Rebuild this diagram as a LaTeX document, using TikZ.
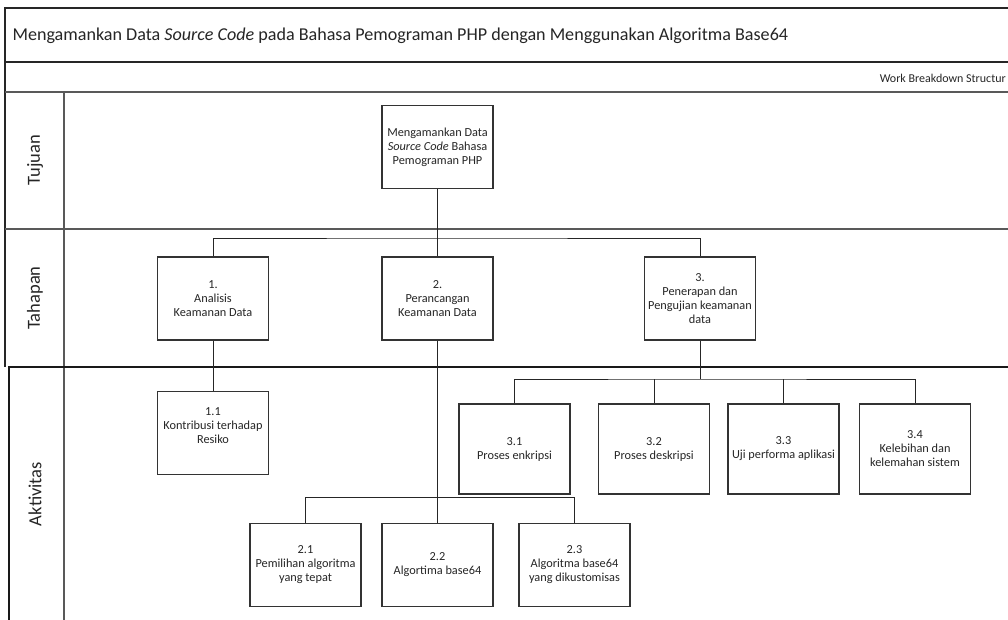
\documentclass[tikz,border=0pt]{standalone}
\usepackage{fontspec}
\setmainfont{Carlito}
\begin{document}
\begin{tikzpicture}[x=1pt,y=-1pt,
  box/.style={draw=black!80, line width=1.1pt, fill=white, minimum width=111pt, minimum height=83pt, align=center, font=\fontsize{12.3}{14}\selectfont, text=black!85, inner sep=1pt},
  wide/.style={box, minimum height=90pt},
  conn/.style={draw=black!85, line width=1pt},
  frame/.style={line width=1.6pt, draw=black!85},
  lane/.style={line width=1.2pt, draw=black!65},
  lanelabel/.style={rotate=90, font=\fontsize{18.5}{22}\selectfont, text=black!85}]
\useasboundingbox (0,0) rectangle (1008,619);
\fill[white] (0,0) rectangle (1008,619);
% frame and lanes
\draw[frame] (1012,8) -- (5,8) -- (5,367);
\draw[frame] (5,62) -- (1012,62);
\draw[lane] (5,92) -- (1012,92);
\draw[lane] (64,92) -- (64,625);
\draw[lane] (5,229) -- (1012,229);
\draw[line width=2pt, draw=black!90] (8,367) -- (1012,367);
\draw[line width=2.4pt, draw=black!90] (9,367) -- (9,625);
% texts
\node[anchor=west, font=\fontsize{18.1}{21}\selectfont, text=black!85] (title) at (9,36) {Mengamankan Data \textit{Source Code} pada Bahasa Pemograman PHP dengan Menggunakan Algoritma Base64};
\node[anchor=east, font=\fontsize{12}{14}\selectfont, text=black!85, inner sep=1pt] (wbs) at (1007,78) {Work Breakdown Structur};
\node[lanelabel] (lt) at (35,160) {Tujuan};
\node[lanelabel] (lh) at (35,298) {Tahapan};
\node[lanelabel] (la) at (35,494) {Aktivitas};
% nodes
\node[box] (top) at (437.5,147) {Mengamankan Data\\\textit{Source Code} Bahasa\\Pemograman PHP};
\node[box] (n1) at (213,298.5) {1.\\Analisis\\Keamanan Data};
\node[box] (n2) at (437.5,298.5) {2.\\Perancangan\\Keamanan Data};
\node[box] (n3) at (700,298.5) {3.\\Penerapan dan\\Pengujian keamanan\\data};
\node[box] (n11) at (213,433) {1.1\\Kontribusi terhadap\\Resiko\\\mbox{}};
\node[box] (n21) at (305.5,565) {2.1\\Pemilihan algoritma\\yang tepat};
\node[box] (n22) at (437.5,565) {2.2\\Algortima base64};
\node[box] (n23) at (574.5,565) {2.3\\Algoritma base64\\yang dikustomisas};
\node[wide] (n31) at (514.5,449) {3.1\\Proses enkripsi};
\node[wide] (n32) at (654,449) {3.2\\Proses deskripsi};
\node[wide] (n33) at (783.5,449) {3.3\\Uji performa aplikasi};
\node[wide] (n34) at (915,449) {3.4\\Kelebihan dan\\kelemahan sistem};
% junctions
\coordinate (b0) at (437.5,238);
\coordinate (b2) at (437.5,497);
\coordinate (b3) at (700,379);
% connectors
\draw[conn] (top.south) -- (n2.north);
\draw[conn] (n1.north) |- (b0) -| (n3.north);
\draw[conn] (n1.south) -- (n11.north);
\draw[conn] (n2.south) -- (n22.north);
\draw[conn] (n21.north) |- (b2) -| (n23.north);
\draw[conn] (n3.south) -- (b3);
\draw[conn] (n31.north) |- (b3) -| (n34.north);
\draw[conn] (b3 -| n32.north) -- (n32.north);
\draw[conn] (b3 -| n33.north) -- (n33.north);
\end{tikzpicture}
\end{document}
